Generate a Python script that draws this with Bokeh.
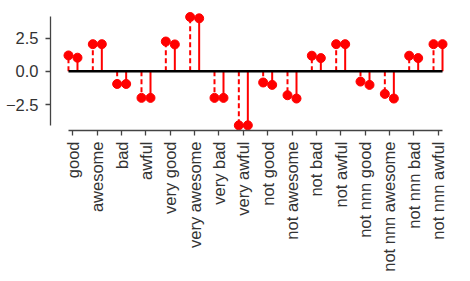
import math
from bokeh.plotting import figure
from bokeh.models import ColumnDataSource, FactorRange, Range1d, FixedTicker
from bokeh.transform import dodge
from bokeh.embed import file_html
from bokeh.resources import INLINE

categories = ["good", "awesome", "bad", "awful", "very good", "very awesome",
              "very bad", "very awful", "not good", "not awesome", "not bad",
              "not awful", "not nnn good", "not nnn awesome", "not nnn bad",
              "not nnn awful"]
series_dashed = [1.2, 2.05, -0.95, -2.0, 2.25, 4.1, -2.0, -4.07,
                 -0.84, -1.8, 1.18, 2.05, -0.77, -1.7, 1.18, 2.05]
series_solid = [1.03, 2.05, -0.95, -2.0, 2.03, 4.0, -2.0, -4.07,
                -1.02, -2.05, 1.0, 2.05, -1.02, -2.05, 1.0, 2.05]
ytick_values = [-2.5, 0.0, 2.5]
ytick_labels = ["\u22122.5", "0.0", "2.5"]

OFF = 0.185
FONT = "Liberation Sans"
TEXT = "#333333"
SPINE = "#444444"

src = ColumnDataSource(dict(cat=categories, a=series_dashed, b=series_solid,
                            zero=[0.0] * len(categories)))
base = ColumnDataSource(dict(x0=[categories[0]], x1=[categories[-1]], y=[0.0]))

x_range = FactorRange(factors=categories, range_padding=0.424,
                      range_padding_units="absolute")
p = figure(x_range=x_range, y_range=Range1d(-4.46, 4.74),
           frame_width=410, frame_height=122,
           min_border_top=8, min_border_left=50, min_border_right=2,
           min_border_bottom=0,
           output_backend="svg", toolbar_location=None)

# stems
p.segment(x0=dodge("cat", -OFF, range=p.x_range), y0="zero",
          x1=dodge("cat", -OFF, range=p.x_range), y1="a", source=src,
          line_color="red", line_width=2, line_dash="5 3")
p.segment(x0=dodge("cat", OFF, range=p.x_range), y0="zero",
          x1=dodge("cat", OFF, range=p.x_range), y1="b", source=src,
          line_color="red", line_width=2)
# baseline
p.segment(x0=dodge("x0", -OFF, range=p.x_range), y0="y",
          x1=dodge("x1", OFF, range=p.x_range), y1="y", source=base,
          line_color="black", line_width=2.5)
# heads
p.scatter(x=dodge("cat", -OFF, range=p.x_range), y="a", source=src,
          size=9, fill_color="red", line_color="red")
p.scatter(x=dodge("cat", OFF, range=p.x_range), y="b", source=src,
          size=9, fill_color="red", line_color="red")

p.xgrid.visible = False
p.ygrid.visible = False
p.outline_line_color = None
p.background_fill_color = "white"
p.border_fill_color = "white"

ya = p.yaxis[0]
ya.ticker = FixedTicker(ticks=ytick_values)
ya.major_label_overrides = {v: l for v, l in zip(ytick_values, ytick_labels)}
ya.bounds = (-4.07, 4.14)
xa = p.xaxis[0]
xa.bounds = (0.5 - OFF - 0.01, len(categories) - 0.5 + OFF + 0.01)
xa.major_label_orientation = math.pi / 2
xa.major_label_standoff = 6
ya.major_label_standoff = 7
for ax in (xa, ya):
    ax.axis_line_color = SPINE
    ax.axis_line_width = 1.3
    ax.major_tick_line_color = SPINE
    ax.major_tick_line_width = 1.3
    ax.major_tick_out = 5
    ax.major_tick_in = 0
    ax.minor_tick_line_color = None
    ax.major_label_text_font = FONT
    ax.major_label_text_font_size = "16.5px"
    ax.major_label_text_color = TEXT

open("out.html", "w").write(file_html(p, INLINE))
